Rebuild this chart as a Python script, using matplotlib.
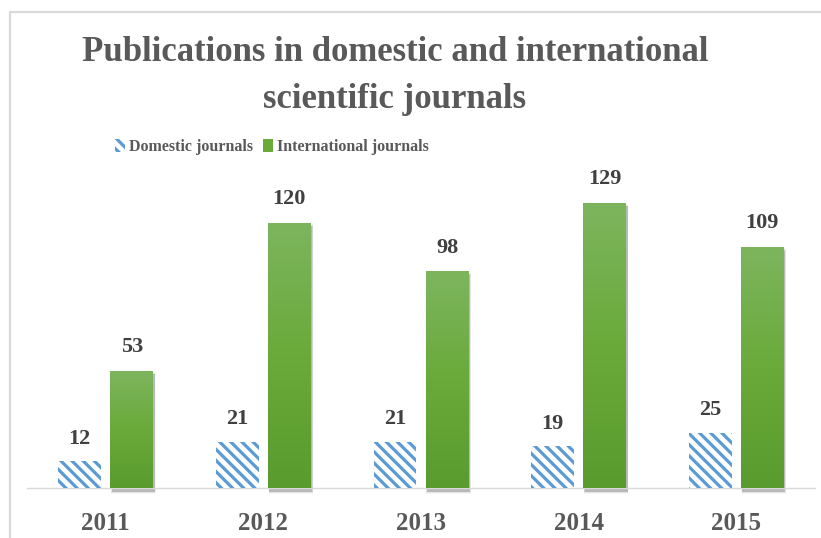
import numpy as np
import matplotlib
matplotlib.use("Agg")
import matplotlib.pyplot as plt
import matplotlib.transforms as mtransforms
from matplotlib.patches import Rectangle, Patch
from matplotlib.colors import LinearSegmentedColormap

years = ["2011", "2012", "2013", "2014", "2015"]
domestic = [12, 21, 21, 19, 25]
international = [53, 120, 98, 129, 109]

title = "Publications in domestic and international\nscientific journals"
series_names = ["Domestic journals", "International journals"]

plt.rcParams["font.family"] = ["Liberation Serif", "DejaVu Serif"]
plt.rcParams["font.weight"] = "bold"
plt.rcParams["hatch.linewidth"] = 2.3

W, H = 821, 538
fig = plt.figure(figsize=(W / 100, H / 100), dpi=100)
fig.patch.set_facecolor("white")

# light chart-area frame (continues past the right and bottom edges)
frame = Rectangle((10 / W, -0.1), 1.2, (H - 12) / H + 0.1, transform=fig.transFigure,
                  fill=False, edgecolor="#D9D9D9", linewidth=1.6)
fig.add_artist(frame)

ax = fig.add_axes([27 / W, 50 / H, (815 - 27) / W, 309.4 / H])
for s in ["top", "right", "left"]:
    ax.spines[s].set_visible(False)
ax.spines["bottom"].set_color("#D9D9D9")
ax.spines["bottom"].set_linewidth(1.0)
ax.set_yticks([])

x = np.arange(len(years))
bw = 0.272
gap = 0.058
xd = x - (bw + gap) / 2
xi = x + (bw + gap) / 2

blue = "#5B9BD5"
hatch = "\\\\\\"
ax.bar(xd, domestic, width=bw, facecolor="white", edgecolor=blue,
       linewidth=0, hatch=hatch, zorder=3)

# soft shadow under the green bars
off = mtransforms.offset_copy(ax.transData, fig=fig, x=1.5 * 72 / 100,
                              y=-3.5 * 72 / 100, units="points")
for k, a in enumerate([0.04, 0.07, 0.10, 0.14]):
    grow = 3 - k
    for xx, v in zip(xi, international):
        r = Rectangle((xx - bw / 2 - grow * 0.002, -grow * 0.35), bw + grow * 0.004,
                      v + grow * 0.7, facecolor="#202020", edgecolor="none",
                      alpha=a, transform=off, zorder=2, clip_on=False)
        ax.add_patch(r)

bars = ax.bar(xi, international, width=bw, color="#6AA83C", linewidth=0, zorder=3)
cmap = LinearSegmentedColormap.from_list("g", ["#5A9B2E", "#6AAA3A", "#7DB55E"])
grad = np.linspace(0, 1, 256).reshape(-1, 1)
for b in bars:
    x0, y0 = b.get_x(), b.get_y()
    im = ax.imshow(grad, cmap=cmap, aspect="auto", origin="lower",
                   extent=[x0, x0 + b.get_width(), y0, y0 + b.get_height()],
                   zorder=4, interpolation="bilinear")
    im.set_clip_path(b)
ax.set_xlim(-0.5, len(years) - 0.5)
ax.set_ylim(0, 140)

label_color = "#404040"
for xx, v in zip(xd, domestic):
    ax.annotate(str(v), (xx, v), xytext=(0, 9), textcoords="offset points",
                ha="center", va="bottom", fontsize=16, fontweight="bold",
                color=label_color)
for xx, v in zip(xi, international):
    ax.annotate(str(v), (xx, v), xytext=(0, 10), textcoords="offset points",
                ha="center", va="bottom", fontsize=16, fontweight="bold",
                color=label_color)

ax.set_xticks(x)
ax.set_xticklabels(years, fontsize=18, fontweight="bold", color="#595959")
ax.tick_params(axis="x", length=0, pad=17)

fig.text(395 / W, 1 - 76 / H, title, ha="center", va="center", fontsize=25,
         fontweight="bold", color="#595959", linespacing=1.55)

handles = [Patch(facecolor="white", edgecolor=blue, linewidth=0, hatch=hatch),
           Patch(facecolor="#6AAA3A", edgecolor="none")]
leg = fig.legend(handles, series_names, loc="center", bbox_to_anchor=(272 / W, 1 - 147 / H),
                 ncol=2, frameon=False, fontsize=11.5, handlelength=0.6,
                 handleheight=0.9, handletextpad=0.3, columnspacing=0.6,
                 borderpad=0)
for t in leg.get_texts():
    t.set_color("#595959")
    t.set_fontweight("bold")

fig.savefig("out.png", dpi=100, facecolor="white")
